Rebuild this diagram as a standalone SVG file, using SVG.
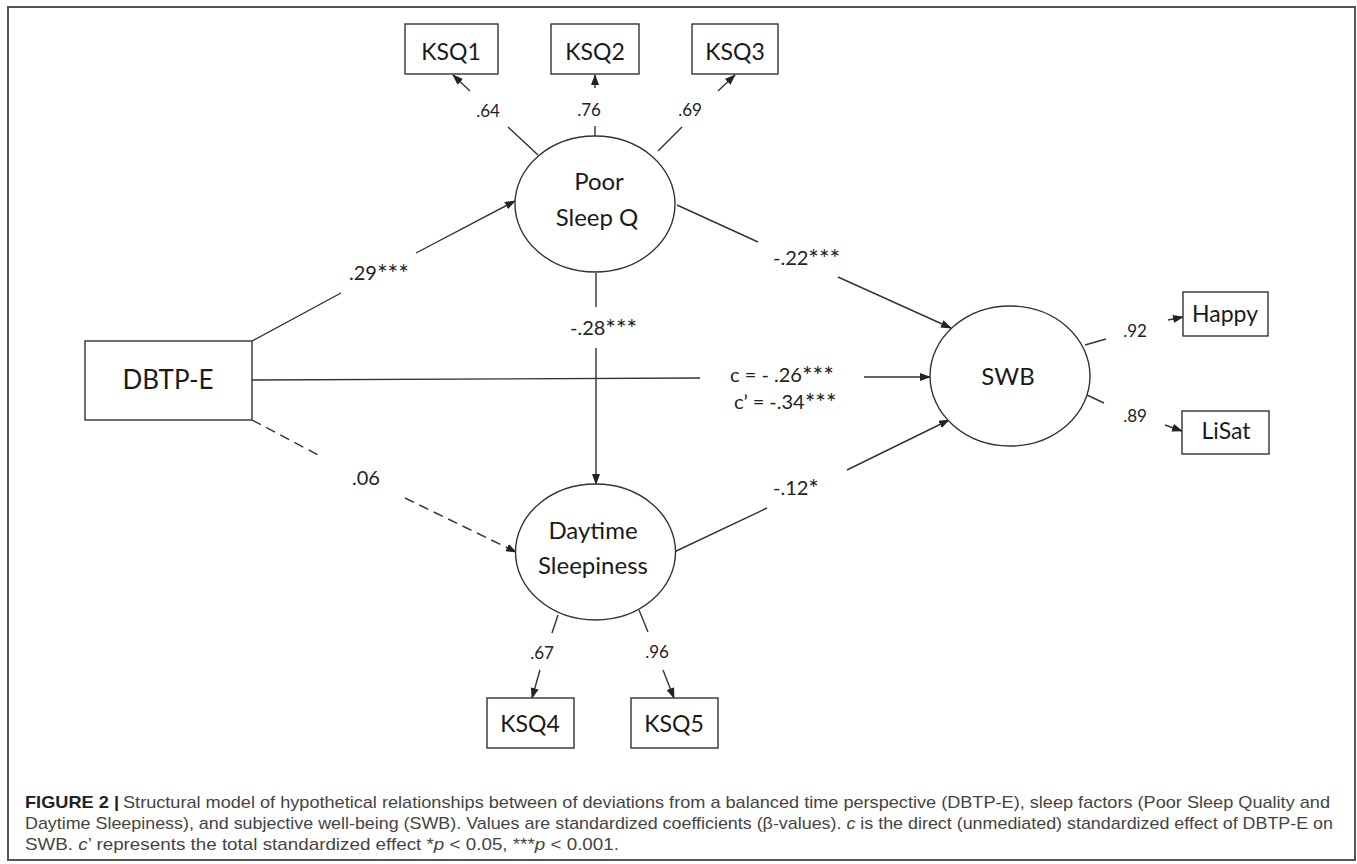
<svg xmlns="http://www.w3.org/2000/svg" width="1357" height="864" viewBox="0 0 1357 864">
<style>
.box{fill:#fff;stroke:#333;stroke-width:1.4}
.lat{fill:#fff;stroke:#333;stroke-width:1.4}
.c{stroke:#333;stroke-width:1.4;fill:none}
.a{stroke:#333;stroke-width:1.4;fill:none;marker-end:url(#ah)}
.d{stroke-dasharray:10 6}
.nt{font-family:Lato,"Open Sans",sans-serif;font-size:24px;fill:#1a1a1a;text-anchor:middle}
.bt{font-family:Lato,"Open Sans",sans-serif;font-size:23px;fill:#1a1a1a;text-anchor:middle}
.pl{font-family:Lato,"Open Sans",sans-serif;font-size:20px;fill:#222}
.st{font-size:25px}
.ll{font-family:Lato,"Open Sans",sans-serif;font-size:17px;fill:#222;text-anchor:middle}
.cap{font-family:"Liberation Sans",Arial,sans-serif;font-size:17px;fill:#444}
.capb{font-family:"Liberation Sans",Arial,sans-serif;font-size:17px;font-weight:bold;fill:#222}
</style>
<defs>
<marker id="ah" markerWidth="11" markerHeight="8" refX="10" refY="4" orient="auto" markerUnits="userSpaceOnUse">
<path d="M0,0 L11,4 L0,8 z" fill="#222"/>
</marker>
</defs>
<rect x="8" y="7" width="1347" height="853" fill="#fff" stroke="#555" stroke-width="2"/>

<g id="connectors">
<line class="c" x1="538" y1="155" x2="508" y2="127"/>
<line class="a" x1="470" y1="91" x2="453" y2="75"/>
<line class="c" x1="595" y1="136" x2="595" y2="126"/>
<line class="a" x1="595" y1="88" x2="595" y2="75"/>
<line class="c" x1="658" y1="151" x2="682" y2="127"/>
<line class="a" x1="718" y1="91" x2="735" y2="75"/>
<line class="c" x1="252" y1="341" x2="341" y2="293"/>
<line class="a" x1="416" y1="253" x2="515" y2="201"/>
<line class="c" x1="677" y1="205" x2="758" y2="242"/>
<line class="a" x1="838" y1="277" x2="951" y2="328"/>
<line class="c" x1="596" y1="273" x2="596" y2="307"/>
<line class="a" x1="596" y1="348" x2="596" y2="484"/>
<line class="c" x1="252" y1="380" x2="700" y2="378"/>
<line class="a" x1="864" y1="377" x2="930" y2="377"/>
<line class="c d" x1="252" y1="420" x2="320" y2="456"/>
<line class="a d" x1="405" y1="498" x2="516" y2="552"/>
<line class="c" x1="672" y1="553" x2="767" y2="508"/>
<line class="a" x1="847" y1="470" x2="949" y2="420"/>
<line class="c" x1="1085" y1="345" x2="1106" y2="339"/>
<line class="a" x1="1168" y1="320" x2="1183" y2="317"/>
<line class="c" x1="1087" y1="395" x2="1104" y2="403"/>
<line class="a" x1="1165" y1="425" x2="1182" y2="431"/>
<line class="c" x1="558" y1="615" x2="552" y2="633"/>
<line class="a" x1="540" y1="670" x2="532" y2="698"/>
<line class="c" x1="639" y1="610" x2="648" y2="632"/>
<line class="a" x1="663" y1="670" x2="674" y2="698"/>
</g>

<g id="labels">
<text class="ll" x="488" y="117">.64</text>
<text class="ll" x="589" y="116">.76</text>
<text class="ll" x="690" y="116">.69</text>
<text class="pl" x="349" y="280">.29<tspan class="st" dy="3">***</tspan></text>
<text class="pl" x="773" y="265">-.22<tspan class="st" dy="3">***</tspan></text>
<text class="pl" x="570" y="335">-.28<tspan class="st" dy="3">***</tspan></text>
<text class="pl" x="730" y="382">c = - .26<tspan class="st" dy="3">***</tspan></text>
<text class="pl" x="734" y="409">c’ = -.34<tspan class="st" dy="3">***</tspan></text>
<text class="pl" x="366" y="485" text-anchor="middle">.06</text>
<text class="pl" x="773" y="495">-.12<tspan class="st" dy="3">*</tspan></text>
<text class="ll" x="1135" y="337">.92</text>
<text class="ll" x="1135" y="422">.89</text>
<text class="ll" x="542" y="659">.67</text>
<text class="ll" x="657" y="658">.96</text>
</g>

<g id="KSQ1"><rect class="box" x="405" y="24" width="93" height="50"/><text class="bt" x="451" y="60">KSQ1</text></g>
<g id="KSQ2"><rect class="box" x="551" y="24" width="88" height="50"/><text class="bt" x="595" y="60">KSQ2</text></g>
<g id="KSQ3"><rect class="box" x="692" y="24" width="86" height="50"/><text class="bt" x="735" y="60">KSQ3</text></g>
<g id="PoorSleepQ"><ellipse class="lat" cx="595" cy="204" rx="80" ry="68"/><text class="nt" x="599" y="190">Poor</text><text class="nt" x="597" y="226">Sleep Q</text></g>
<g id="DBTPE"><rect class="box" x="85" y="341" width="167" height="79"/><text class="nt" x="168" y="389" style="font-size:26px">DBTP-E</text></g>
<g id="SWB"><ellipse class="lat" cx="1010" cy="376" rx="80" ry="70"/><text class="nt" x="1008" y="385">SWB</text></g>
<g id="Happy"><rect class="box" x="1183" y="292" width="85" height="44"/><text class="bt" x="1225" y="322">Happy</text></g>
<g id="LiSat"><rect class="box" x="1182" y="411" width="87" height="43"/><text class="bt" x="1226" y="439">LiSat</text></g>
<g id="DaytimeSleepiness"><ellipse class="lat" cx="595.5" cy="552" rx="80" ry="68"/><text class="nt" x="593" y="539">Daytime</text><text class="nt" x="593" y="574">Sleepiness</text></g>
<g id="KSQ4"><rect class="box" x="487" y="698" width="87" height="50"/><text class="bt" x="530" y="732">KSQ4</text></g>
<g id="KSQ5"><rect class="box" x="631" y="698" width="87" height="50"/><text class="bt" x="674" y="732">KSQ5</text></g>

<g id="caption">
<text class="capb" x="25" y="808" textLength="94" lengthAdjust="spacingAndGlyphs">FIGURE 2 |</text>
<text class="cap" x="123" y="808" textLength="1207" lengthAdjust="spacingAndGlyphs">Structural model of hypothetical relationships between of deviations from a balanced time perspective (DBTP-E), sleep factors (Poor Sleep Quality and</text>
<text class="cap" x="25" y="829" textLength="1308" lengthAdjust="spacingAndGlyphs">Daytime Sleepiness), and subjective well-being (SWB). Values are standardized coefficients (β-values). <tspan font-style="italic">c</tspan> is the direct (unmediated) standardized effect of DBTP-E on</text>
<text class="cap" x="25" y="850" textLength="594" lengthAdjust="spacingAndGlyphs">SWB. <tspan font-style="italic">c</tspan>’ represents the total standardized effect *<tspan font-style="italic">p</tspan> &lt; 0.05, ***<tspan font-style="italic">p</tspan> &lt; 0.001.</text>
</g>
</svg>
